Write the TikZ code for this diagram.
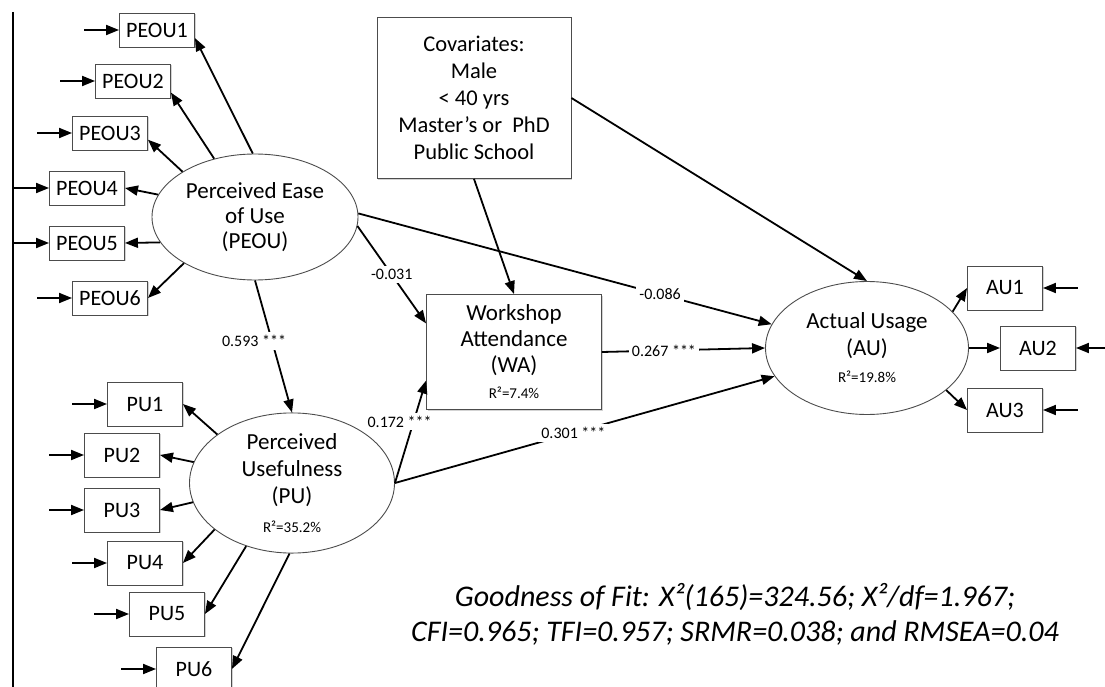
\documentclass[tikz,border=0pt]{standalone}
\usepackage{fontspec}
\setmainfont{Carlito}
\usepackage{tikz}
\usetikzlibrary{shapes.geometric,arrows.meta,shadows}

\newcommand{\rsqlabel}[1]{{\fontsize{15}{17}\selectfont R²=#1\%}}

\begin{document}
\begin{tikzpicture}[x=1pt, y=-1pt,
  every node/.style={font=\fontsize{22}{26}\selectfont},
  ind/.style={draw=black!70, fill=white, line width=0.9pt, minimum width=75pt, minimum height=44pt, inner sep=0pt,
    drop shadow={shadow xshift=1.2pt, shadow yshift=-1.2pt, opacity=0.35}},
  indsm/.style={ind, minimum height=34pt},
  latent/.style={ellipse, draw=black!70, line width=0.9pt, inner sep=0pt, align=center, font=\fontsize{23}{27}\selectfont},
  item/.style={draw=black!70, fill=white, line width=0.9pt, inner sep=0pt, align=center,
    drop shadow={shadow xshift=1.2pt, shadow yshift=-1.2pt, opacity=0.35}},
  arr/.style={-{Triangle[length=13pt,width=10pt]}, line width=1.8pt},
  coef/.style={fill=white, inner sep=3pt, font=\fontsize{16}{18}\selectfont}]
\useasboundingbox (0,0) rectangle (1105,687);
\draw[line width=1.2pt] (13,12) -- (13,687);

% Perceived ease of use
\node[latent, minimum width=206pt, minimum height=126pt, font=\fontsize{23}{25}\selectfont] (PEOU) at (255,217) {Perceived Ease\\of Use\\(PEOU)};
\foreach \i/\x/\y in {1/157/30, 2/133/81, 3/110/133, 4/87/188, 5/87/243, 6/110/298}
  \node[indsm] (PEOU\i) at (\x,\y) {PEOU\i};
\foreach \i in {1,...,6}
  \draw[arr] ([xshift=-35pt]PEOU\i.west) -- (PEOU\i.west);
\foreach \a/\i/\b in {92/1/-12, 125/2/-17, 148/3/-10, 167/4/0, 195/5/0, 213/6/0}
  \draw[arr] (PEOU.\a) -- (PEOU\i.\b);

% Perceived usefulness
\node[latent, minimum width=205pt, minimum height=132pt] (PU) at (292,483) {Perceived\\Usefulness\\(PU)\\[2pt]\rsqlabel{35.2}};
\foreach \i/\x/\y in {1/145/404, 2/122/455, 3/122/510, 4/145/563, 5/167/614, 6/194/669}
  \node[ind] (PU\i) at (\x,\y) {PU\i};
\foreach \i in {1,...,6}
  \draw[arr] ([xshift=-35pt]PU\i.west) -- (PU\i.west);
\foreach \a/\i in {147/1, 168/2, 191/3, 211/4, 234/5, 268/6}
  \draw[arr] (PU.\a) -- (PU\i.east);

% Actual usage
\node[latent, minimum width=203pt, minimum height=133pt] (AU) at (867,348) {Actual Usage\\(AU)\\\rsqlabel{19.8}};
\foreach \i/\x/\y in {1/1005/288, 2/1038/348, 3/1005/410}
  \node[ind] (AU\i) at (\x,\y) {AU\i};
\foreach \i in {1,2,3}
  \draw[arr] ([xshift=35pt]AU\i.east) -- (AU\i.east);
\draw[arr] (AU.23) -- (AU1.west);
\draw[arr] (AU.east) -- (AU2.west);
\draw[arr] (AU.-28) -- (AU3.west);

% Covariates and workshop
\node[item, minimum width=194pt, minimum height=161pt, font=\fontsize{22.5}{27}\selectfont] (COV) at (474,98) {Covariates:\\Male\\< 40 yrs\\Master’s or\ \ PhD\\Public School};
\node[item, minimum width=175pt, minimum height=115pt, font=\fontsize{23}{26}\selectfont] (WA) at (514,352) {Workshop\\Attendance\\(WA)\\\rsqlabel{7.4}};

% Structural paths
\draw[arr] (COV.south) -- (WA.north);
\draw[arr] (COV.east) -- (AU.north);
\draw[arr] (PEOU.south) -- node[coef, pos=0.46, xshift=-18pt] {0.593 ***} (PU.north);
\draw[arr] (PEOU.-5) -- node[coef, pos=0.5] {-0.031} (WA.162);
\draw[arr] (PEOU.2) -- node[coef, pos=0.73] {-0.086} (AU.166);
\draw[arr] (WA.east) -- node[coef, pos=0.38] {0.267 ***} (AU.west);
\draw[arr] (PU.east) -- node[coef, pos=0.6, xshift=-14pt] {0.172 ***} (WA.198);
\draw[arr] (PU.east) -- node[coef, pos=0.47] {0.301 ***} (AU.197);

% Fit
\node[font=\fontsize{30}{35}\selectfont\itshape, align=center] (GOF) at (735,614) {Goodness of Fit: X²(165)=324.56; X²/df=1.967;\\CFI=0.965; TFI=0.957; SRMR=0.038; and RMSEA=0.04};
\end{tikzpicture}
\end{document}
